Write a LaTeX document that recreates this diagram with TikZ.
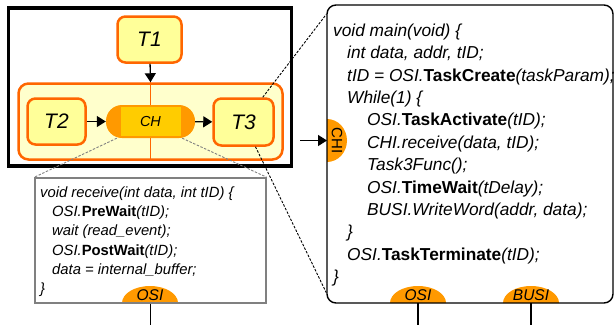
\documentclass[tikz,border=0pt]{standalone}
\usepackage{fontspec}
\setmainfont{Liberation Sans}
\usetikzlibrary{arrows.meta}

\definecolor{taskedge}{RGB}{255,102,0}
\definecolor{taskfill}{RGB}{255,255,153}
\definecolor{chanfill}{RGB}{255,255,204}
\definecolor{chanend}{RGB}{255,153,0}
\definecolor{chancore}{RGB}{255,204,0}
\definecolor{boxgray}{RGB}{128,128,128}

\newcommand{\kw}[1]{\textup{\textbf{#1}}}

\begin{document}
\begin{tikzpicture}[x=1pt, y=-1pt,
    task/.style={draw=taskedge, line width=2.5pt, fill=taskfill, rounded corners=8pt,
      inner sep=0pt, font=\fontsize{21}{21}\selectfont\itshape},
    flow/.style={-{Triangle[length=9pt,width=11pt]}, line width=1.3pt},
    zoomline/.style={line width=0.9pt, dash pattern=on 2.5pt off 1.5pt},
    bump/.style={fill=chanend},
    bumplabel/.style={font=\fontsize{15.5}{15.5}\selectfont\itshape, inner sep=0pt},
    codetext/.style={align=left, inner sep=0pt, anchor=north west}]

    \useasboundingbox (0,0) rectangle (615,325);

    % system box with the three tasks
    \node[draw, line width=3.5pt, minimum width=283pt, minimum height=158pt,
      inner sep=0pt] (sysbox) at (150,87) {};
    \node[draw=taskedge, line width=2.5pt, fill=chanfill, rounded corners=10pt,
      minimum width=264pt, minimum height=76pt, inner sep=0pt] (chbox) at (150.5,121.5) {};
    \draw[taskedge, line width=0.5pt] (chbox.north) -- (chbox.south);

    \node[task, minimum width=64pt, minimum height=46pt] (t1) at (149.5,39.5) {T1};
    \node[task, minimum width=58pt, minimum height=46pt] (t2) at (56.5,121.5) {T2};
    \node[task, minimum width=60pt, minimum height=47pt] (t3) at (243.5,122) {T3};

    % channel
    \node[fill=chanend, rounded corners=16pt, minimum width=89pt, minimum height=33pt,
      inner sep=0pt] (ch) at (150.5,121.5) {};
    \node[fill=chancore, minimum width=60pt, minimum height=29pt, inner sep=0pt,
      font=\fontsize{14.5}{14.5}\selectfont\itshape] (chcore) at (150.5,121.5) {CH};

    \draw[flow] (t1) -- (chbox.north);
    \draw[flow] (t2) -- (ch);
    \draw[flow] (ch) -- (t3);

    % receive() of the channel
    \fill[bump] (122,303) arc[start angle=180, end angle=0, x radius=28pt, y radius=17pt] -- cycle;
    \node[draw=boxgray, line width=1.5pt, minimum width=231pt, minimum height=125pt,
      inner sep=0pt] (recv) at (150.5,240.5) {};
    \node[bumplabel] (osirecv) at (150,295) {OSI};
    \coordinate (osirecvpin) at (150.5,325);
    \draw[line width=1.4pt] (recv.south) -- (osirecvpin);

    \node[codetext, font=\fontsize{14.8}{19.2}\selectfont\itshape] (recvcode) at (40,186.5)
      {void receive(int data, int tID) \{\\
       \hspace*{12pt}OSI.\kw{PreWait}(tID);\\
       \hspace*{12pt}wait (read\_event);\\
       \hspace*{12pt}OSI.\kw{PostWait}(tID);\\
       \hspace*{12pt}data = internal\_buffer;\\
       \}};

    % main() of task T3
    \fill[bump] (327,162) arc[start angle=-90, end angle=90, x radius=20pt, y radius=21.5pt] -- cycle;
    \fill[bump] (390,303) arc[start angle=180, end angle=0, x radius=28pt, y radius=17pt] -- cycle;
    \fill[bump] (503,303) arc[start angle=180, end angle=0, x radius=28pt, y radius=17pt] -- cycle;
    \node[draw, line width=1.4pt, rounded corners=9pt, minimum width=286pt,
      minimum height=298pt, inner sep=0pt] (mainbox) at (470,154) {};
    \node[font=\fontsize{15}{15}\selectfont, rotate=-90, inner sep=0pt] (chi) at (337,140.5) {CHI};
    \node[bumplabel] (osimain) at (418,295) {OSI};
    \node[bumplabel] (busi) at (531,295) {BUSI};

    \coordinate (chiport) at (327,140.5);
    \coordinate (chisrc) at (300,140.5);
    \coordinate (osimaintop) at (418,303);
    \coordinate (osimainpin) at (418,325);
    \coordinate (busitop) at (531,303);
    \coordinate (busipin) at (531,325);
    \draw[flow] (chisrc) -- (chiport);
    \draw[line width=1.4pt] (osimaintop) -- (osimainpin);
    \draw[line width=1.4pt] (busitop) -- (busipin);

    \node[codetext, font=\fontsize{17.3}{22.4}\selectfont\itshape] (maincode) at (333,23.5)
      {void main(void) \{\\
       \hspace*{14pt}int data, addr, tID;\\
       \hspace*{14pt}tID = OSI.\kw{TaskCreate}(taskParam);\\
       \hspace*{14pt}While(1) \{\\
       \hspace*{34pt}OSI.\kw{TaskActivate}(tID);\\
       \hspace*{34pt}CHI.receive(data, tID);\\
       \hspace*{34pt}Task3Func();\\
       \hspace*{34pt}OSI.\kw{TimeWait}(tDelay);\\
       \hspace*{34pt}BUSI.WriteWord(addr, data);\\
       \hspace*{14pt}\}\\
       \hspace*{14pt}OSI.\kw{TaskTerminate}(tID);\\
       \}};

    % zoom lines
    \draw[zoomline, boxgray] ([xshift=11pt]ch.south west) -- (recv.north west);
    \draw[zoomline, boxgray] ([xshift=-13pt]ch.south east) -- (recv.north east);
    \draw[zoomline] ([xshift=-12pt]t3.north east) -- ([yshift=-10pt]mainbox.north west);
    \draw[zoomline] ([xshift=12pt]t3.south) -- ([yshift=11pt]mainbox.south west);

\end{tikzpicture}
\end{document}
